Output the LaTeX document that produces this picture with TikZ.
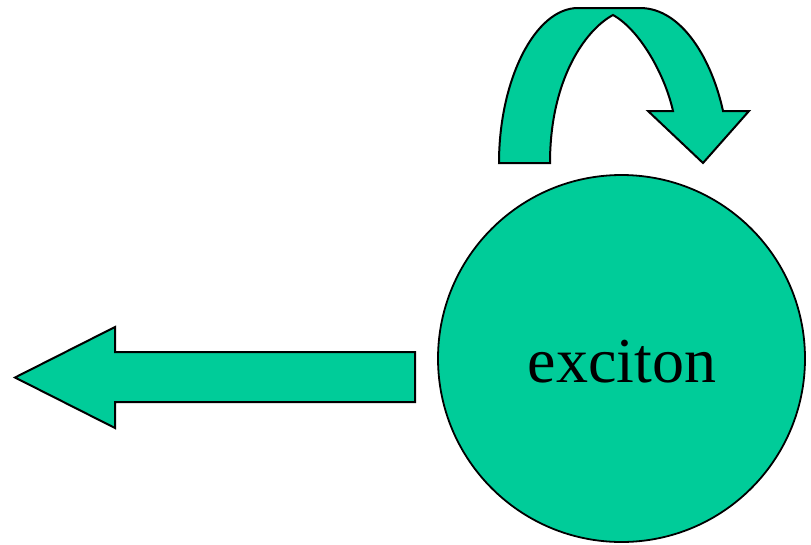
\documentclass[tikz,border=0pt]{standalone}
\usepackage{fontspec}
\setmainfont{Liberation Serif}
\definecolor{fillgreen}{HTML}{00CC99}
\begin{document}
\begin{tikzpicture}[x=1pt,y=-1pt,
  shapestyle/.style={fill=fillgreen,draw=black,line width=2pt,line join=miter}]
\useasboundingbox (0,0) rectangle (811,544);
% circle node
\node[shapestyle,circle,minimum size=367pt,inner sep=0pt,line width=1.8pt] (exc) at (621.5,358.5) {};
\node[font=\fontsize{64}{70}\selectfont,anchor=base] (lbl) at (622,382) {exciton};
% left arrow
\draw[shapestyle] (415,352) -- (115,352) -- (115,327) -- (15,377.5) -- (115,428) -- (115,402) -- (415,402) -- cycle;
% curved arrow
\draw[shapestyle] (499,163) .. controls (499,80) and (535,8) .. (578,8) -- (640,8)
  .. controls (682,8) and (712,60) .. (723,111) -- (749,111) -- (703,163) -- (648,111) -- (673,111)
  .. controls (665,75) and (640,30) .. (613,15)
  .. controls (585,30) and (550,80) .. (550,163) -- cycle;
\end{tikzpicture}
\end{document}
